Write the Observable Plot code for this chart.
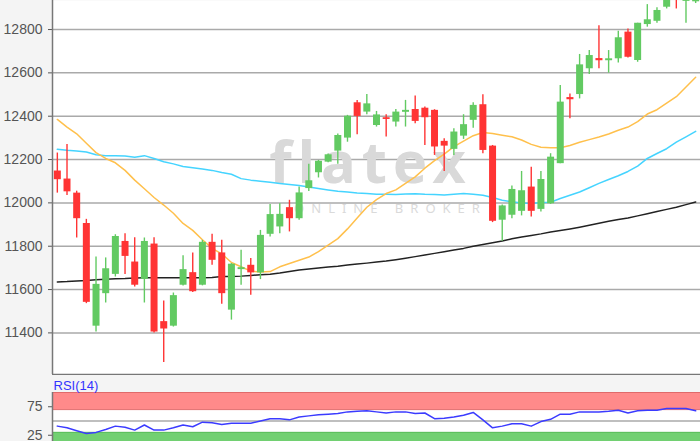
<!DOCTYPE html>
<html><head><meta charset="utf-8">
<script src="https://cdn.jsdelivr.net/npm/d3@7"></script>
<script src="https://cdn.jsdelivr.net/npm/@observablehq/plot@0.6"></script>
<style>
html,body{margin:0;padding:0;overflow:hidden;background:#f4f4f4;}
#chart{position:relative;width:700px;height:441px;overflow:hidden;background:#f4f4f4;}
#main{position:absolute;left:0;top:0;}
#rsi{position:absolute;left:0;top:375px;}
</style></head><body>
<div id="chart"><div id="main"></div><div id="rsi"></div></div>
<script>
const opens  = [12147,12110,12045,11905,11431,11581,11670,11822,11727,11647,11810,11452,11431,11620,11678,11620,11818,11769,11505,11692,11712,11677,11855,11889,11978,11927,12066,12139,12188,12239,12299,12462,12419,12357,12393,12373,12418,12431,12437,12427,12284,12247,12308,12381,12453,12262,11920,11943,11961,12073,11970,11996,12181,12486,12500,12619,12666,12656,12665,12788,12657,12823,12838,12903,12990,12930,12928];
const highs  = [12230,12270,12054,11924,11750,11746,11853,11858,11839,11838,11839,11547,11584,11756,11769,11827,11855,11827,11720,11781,11743,11873,11992,11996,12012,12073,12178,12196,12226,12318,12404,12473,12500,12422,12407,12431,12473,12493,12442,12430,12296,12342,12407,12462,12499,12265,11990,12078,12145,12165,12145,12227,12542,12503,12685,12703,12818,12703,12792,12803,12829,12915,12900,12980,13000,12990,12945];
const lows   = [12045,12034,11838,11535,11404,11538,11658,11669,11612,11538,11400,11263,11427,11617,11587,11617,11712,11532,11459,11620,11574,11646,11843,11858,11866,11920,12053,12115,12185,12178,12280,12315,12407,12350,12304,12350,12350,12365,12265,12219,12145,12219,12293,12345,12227,11909,11823,11927,11940,11935,11958,11993,12181,12388,12480,12592,12619,12599,12645,12669,12649,12811,12829,12895,12895,12829,12920];
const closes = [12107,12051,11927,11541,11624,11696,11845,11753,11620,11822,11404,11418,11572,11692,11590,11818,11735,11581,11717,11701,11677,11850,11946,11947,11927,12046,12102,12192,12222,12311,12400,12399,12457,12406,12385,12419,12427,12376,12393,12258,12262,12327,12361,12450,12242,11915,11986,12062,12056,11961,12108,12211,12465,12476,12637,12680,12656,12665,12762,12672,12829,12845,12888,12950,12940,12960,12937];
const ma20   = [12385,12350,12319,12275,12232,12205,12185,12150,12105,12065,12025,11990,11952,11905,11873,11830,11790,11765,11725,11705,11685,11681,11683,11705,11720,11735,11750,11775,11805,11835,11880,11930,11980,12015,12043,12060,12090,12120,12160,12195,12225,12260,12285,12310,12325,12320,12312,12305,12290,12270,12257,12255,12254,12265,12280,12292,12304,12318,12335,12350,12375,12410,12430,12460,12490,12535,12580];
const ma50   = [12247,12243,12240,12235,12222,12218,12217,12216,12211,12218,12205,12190,12180,12168,12162,12156,12150,12140,12132,12112,12105,12100,12095,12090,12085,12080,12073,12066,12060,12054,12050,12046,12043,12040,12040,12039,12041,12042,12040,12039,12036,12040,12043,12040,12035,12025,12012,12005,12000,11997,12002,12003,12020,12035,12050,12070,12090,12108,12125,12145,12170,12205,12228,12250,12280,12305,12330];
const ma200  = [11635,11637,11640,11642,11645,11648,11650,11651,11653,11655,11655,11655,11655,11655,11655,11655,11656,11660,11660,11662,11665,11668,11671,11676,11683,11690,11695,11700,11704,11708,11713,11718,11722,11727,11732,11738,11745,11752,11760,11767,11775,11783,11790,11800,11808,11816,11824,11834,11843,11850,11857,11866,11873,11880,11888,11897,11906,11915,11923,11930,11940,11950,11960,11970,11980,11992,12004];
const rsi    = [41,38,33,28,30,35,41,39,34,43,34,34,38,43,40,48,47,44,46,46,46,50,54,54,52,57,59,61,62,63,66,67,68,66,64,66,66,63,64,54,55,57,60,65,52,38,41,45,45,41,49,53,62,62,66,66,66,67,69,64,68,69,69,72,72,72,68];
const yTicks   = [11400,11600,11800,12000,12200,12400,12600,12800];
const rsiTicks = [25,75];
const rsiBands = [{lo:70, hi:100, fill:"#ff8a8a"}, {lo:0, hi:30, fill:"#72d072"}];

const idx = opens.map((_, i) => i);
const candles = idx.map(i => ({i, o: opens[i], h: highs[i], l: lows[i], c: closes[i]}));
const up = "#62ca62", down = "#ff3434";
const xDomain = [-0.5, opens.length - 0.5];
const yDomain = [11208, 12934];
const font = "Liberation Sans, Arial, sans-serif";

const main = Plot.plot({
  width: 700, height: 375, marginLeft: 52, marginRight: 0, marginTop: 0, marginBottom: 1,
  style: {background: "none", color: "#555", fontSize: "14px", fontFamily: font},
  x: {domain: xDomain, axis: null},
  y: {domain: yDomain, ticks: yTicks, tickSize: 4, tickPadding: 6, tickFormat: d => String(d), label: null},
  color: {type: "identity"},
  marks: [
    Plot.frame({fill: "white", stroke: "none"}),
    Plot.ruleY(yTicks, {stroke: "#aaa", strokeWidth: 1.5}),
    Plot.text(["flatex"], {frameAnchor: "middle", text: d => d, lineAnchor: "bottom", dx: -6, dy: -5, fontSize: 58, fontWeight: 700, fontFamily: "Noto Sans", fill: "#d9d9d9"}),
    Plot.text(["ONLINE BROKER"], {frameAnchor: "middle", text: d => d, lineAnchor: "bottom", dx: 14, dy: 25, fontSize: 13, fontFamily: "Noto Sans", fill: "#dadada"}),
    Plot.line(idx, {x: d => d, y: i => ma50[i], stroke: "#45d4ff", strokeWidth: 1.5}),
    Plot.line(idx, {x: d => d, y: i => ma20[i], stroke: "#ffc04c", strokeWidth: 1.5}),
    Plot.line(idx, {x: d => d, y: i => ma200[i], stroke: "#222", strokeWidth: 1.5}),
    Plot.ruleX(candles, {x: "i", y1: "l", y2: "h", stroke: d => d.c >= d.o ? up : down, strokeWidth: 1.4}),
    Plot.ruleX(candles, {x: "i", y1: "o", y2: "c", stroke: d => d.c >= d.o ? up : down, strokeWidth: 7}),
    Plot.ruleX([xDomain[0]], {stroke: "#777", strokeWidth: 1.5}),
    Plot.ruleY([yDomain[0]], {stroke: "#777", strokeWidth: 1.5})
  ]
});
document.getElementById("main").append(main);
d3.select(main).selectAll("text").each(function() {
  if (this.textContent === "flatex") d3.select(this).style("letter-spacing", "6px");
  if (this.textContent === "ONLINE BROKER") d3.select(this).style("letter-spacing", "7px");
});

const rsiPlot = Plot.plot({
  width: 700, height: 74, marginLeft: 52, marginRight: 0, marginTop: 17, marginBottom: 0,
  style: {background: "none", color: "#555", fontSize: "14px", fontFamily: font},
  x: {domain: xDomain, axis: null},
  y: {domain: [0, 100], ticks: rsiTicks, tickSize: 4, tickPadding: 6, label: null},
  color: {type: "identity"},
  marks: [
    Plot.frame({fill: "white", stroke: "none"}),
    Plot.rect(rsiBands, {y1: "lo", y2: "hi", fill: "fill"}),
    Plot.ruleY([100, 70], {stroke: "#e06a6a", strokeWidth: 1}),
    Plot.ruleY([30], {stroke: "#5cbf5c", strokeWidth: 1}),
    Plot.ruleY([50], {stroke: "#aaa", strokeWidth: 1.5}),
    Plot.line(idx, {x: d => d, y: i => rsi[i], stroke: "#3b3bff", strokeWidth: 1.5}),
    Plot.ruleX([xDomain[0]], {stroke: "#777", strokeWidth: 1.5}),
    Plot.text(["RSI(14)"], {frameAnchor: "top-left", text: d => d, textAnchor: "start", lineAnchor: "bottom", dx: 1, dy: -3, fill: "#3333ff", fontSize: 13})
  ]
});
document.getElementById("rsi").append(rsiPlot);
</script></body></html>
